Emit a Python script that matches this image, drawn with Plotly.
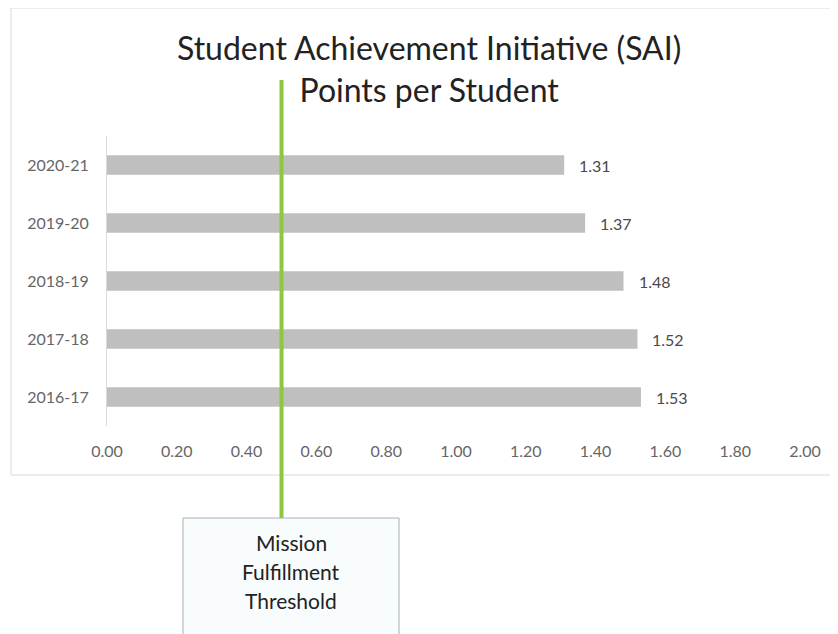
import plotly.graph_objects as go

years = ["2016-17", "2017-18", "2018-19", "2019-20", "2020-21"]
points = [1.53, 1.52, 1.48, 1.37, 1.31]
x_ticks = [0.0, 0.2, 0.4, 0.6, 0.8, 1.0, 1.2, 1.4, 1.6, 1.8, 2.0]
threshold = 0.5
threshold_lines = ["Mission", "Fulfillment", "Threshold"]
title_text = "Student Achievement Initiative (SAI)<br>Points per Student"

FONT = "Lato, 'Open Sans', sans-serif"
BAR_GREY = "#bfbfbf"
LABEL_GREY = "#666666"
GREEN = "#8dc63f"

# the page body adds an 8px margin, so work in screen pixels and shift back
OFF = 8
W, H = 838 - OFF, 634 - OFF
PL, PR, PT, PB = 107, 805, 136, 426   # plot area in screen pixels
L, R, T, B = PL - OFF, W - (PR - OFF), PT - OFF, H - (PB - OFF)
plot_h = PB - PT


def py(screen_y):
    return (PB - screen_y) / plot_h


def px(screen_x):
    return (screen_x - PL) / (PR - PL)


fig = go.Figure()
fig.add_trace(go.Bar(
    x=points, y=years, orientation="h",
    marker=dict(color=BAR_GREY, line=dict(width=0)),
    hoverinfo="skip", showlegend=False,
))

# value labels
for v, yr in zip(points, years):
    fig.add_annotation(
        x=v, y=yr, text=f"{v:.2f}", showarrow=False,
        xanchor="left", xshift=13,
        font=dict(family=FONT, size=16, color="#4a4a4a"),
    )

# outer chart frame
fig.add_shape(type="rect", xref="paper", yref="paper",
              x0=px(11), x1=px(850), y0=py(8), y1=py(475),
              line=dict(color="#d9d9d9", width=1), layer="below")

# threshold line and callout box
fig.add_shape(type="line", xref="x", yref="paper",
              x0=threshold, x1=threshold, y0=py(80), y1=py(518),
              line=dict(color=GREEN, width=4))
fig.add_shape(type="rect", xref="paper", yref="paper",
              x0=px(183), x1=px(399), y0=py(518), y1=py(660),
              line=dict(color="#a7b0b5", width=1), fillcolor="#f8fcfd")
for i, line in enumerate(threshold_lines):
    fig.add_annotation(
        xref="paper", yref="paper", x=px(291), y=py(542 + 29 * i),
        text=line, showarrow=False, xanchor="center", yanchor="middle",
        font=dict(family=FONT, size=21, color="#222222"),
    )

# title
fig.add_annotation(
    xref="paper", yref="paper", x=px(429), y=py(68),
    text=title_text, showarrow=False, xanchor="center", yanchor="middle",
    font=dict(family=FONT, size=32, color="#222222"),
)

fig.update_layout(
    width=W, height=H,
    margin=dict(l=L, r=R, t=T, b=B, pad=0),
    paper_bgcolor="white", plot_bgcolor="white",
    bargap=0.66,
    font=dict(family=FONT, size=16, color=LABEL_GREY),
)
fig.update_xaxes(
    range=[0, 2.0], tickvals=x_ticks, tickformat=".2f",
    showgrid=False, zeroline=False, showline=False,
    ticks="", ticklabelstandoff=14,
    tickfont=dict(family=FONT, size=16, color=LABEL_GREY),
)
fig.update_yaxes(
    showgrid=False, zeroline=False, showline=True,
    linecolor="#d9d9d9", linewidth=1,
    ticks="", ticklabelstandoff=14,
    tickfont=dict(family=FONT, size=16, color=LABEL_GREY),
)

fig.write_html("out.html")
